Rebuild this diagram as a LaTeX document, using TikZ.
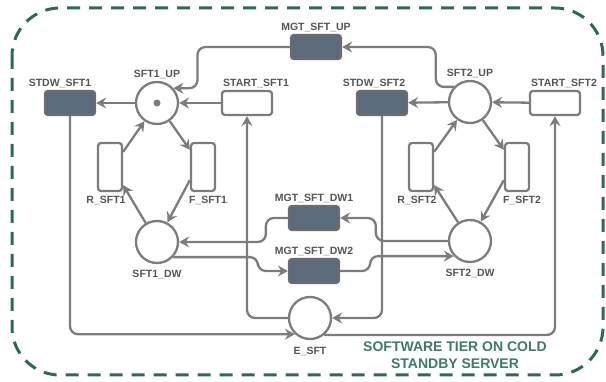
\documentclass[tikz,border=0pt]{standalone}
\usepackage{fontspec}
\setmainfont{Liberation Sans}
\usetikzlibrary{arrows.meta}
\definecolor{edgegray}{RGB}{124,124,124}
\definecolor{slate}{RGB}{91,107,124}
\definecolor{txtgray}{RGB}{85,85,85}
\definecolor{tiergreen}{RGB}{47,104,88}
\definecolor{tiertext}{RGB}{58,124,104}
\begin{document}
\begin{tikzpicture}[x=1pt,y=-1pt,
  place/.style={circle,draw=edgegray,line width=2.3pt,fill=white,minimum size=42pt,inner sep=0pt},
  trans/.style={rectangle,rounded corners=3pt,draw=edgegray,line width=2.3pt,fill=white,minimum width=50pt,minimum height=24pt,inner sep=0pt},
  vtrans/.style={trans,minimum width=24pt,minimum height=48pt},
  mgt/.style={trans,fill=slate,draw=gray!85!black},
  lbl/.style={font=\bfseries\fontsize{10.5}{12}\selectfont,text=txtgray,inner sep=1pt},
  flow/.style={draw=edgegray,line width=2.3pt,rounded corners=8pt,-{Stealth[length=10pt,width=11pt,inset=3.5pt]}},
  every label/.style={lbl},
  label distance=1pt]
  \useasboundingbox (0,0) rectangle (606,382);
  \draw[tiergreen,line width=3pt,dash pattern=on 13pt off 9pt,rounded corners=48pt] (12,8) rectangle (603,375);

  \node[place,label={above:SFT1\_UP}] (sft1up) at (157,103) {};
  \node[circle,fill=edgegray,minimum size=7pt,inner sep=0pt] (token) at (sft1up) {};
  \node[mgt,label={[xshift=-10pt]above:STDW\_SFT1}] (stdw1) at (70,103) {};
  \node[trans,label={[xshift=9pt]above:START\_SFT1}] (start1) at (247,103) {};
  \node[mgt,label={above:MGT\_SFT\_UP}] (mgtup) at (316,47) {};
  \node[place,label={above:SFT2\_UP}] (sft2up) at (470,102) {};
  \node[mgt,label={[xshift=-8pt]above:STDW\_SFT2}] (stdw2) at (382,103) {};
  \node[trans,label={[xshift=9pt]above:START\_SFT2}] (start2) at (555,103) {};
  \node[vtrans,label={[xshift=-4pt,label distance=3pt]below:R\_SFT1}] (r1) at (110,167) {};
  \node[vtrans,label={[xshift=5pt,label distance=3pt]below:F\_SFT1}] (f1) at (203,167) {};
  \node[vtrans,label={[xshift=-4pt,label distance=3pt]below:R\_SFT2}] (r2) at (421,167) {};
  \node[vtrans,label={[xshift=5pt,label distance=3pt]below:F\_SFT2}] (f2) at (517,167) {};
  \node[place,label={[label distance=5pt]below:SFT1\_DW}] (sft1dw) at (157,242) {};
  \node[place,label={[label distance=5pt]below:SFT2\_DW}] (sft2dw) at (470,241) {};
  \node[mgt,label={above:MGT\_SFT\_DW1}] (mgtdw1) at (314,218) {};
  \node[mgt,label={above:MGT\_SFT\_DW2}] (mgtdw2) at (314,271) {};
  \node[place,label={[label distance=6pt]below:E\_SFT}] (esft) at (310,318) {};
  \node[font=\bfseries\fontsize{14}{16.5}\selectfont,text=tiertext,align=center] (tier) at (455,355) {SOFTWARE TIER ON COLD\\STANDBY SERVER};

  \draw[flow] (sft1up) -- (stdw1);
  \draw[flow] (start1) -- (sft1up);
  \draw[flow] (mgtup.west) -| ([xshift=24pt]sft1up.42) -- (sft1up.42);
  \draw[flow] ([yshift=-10pt]r1.north east) -- (sft1up);
  \draw[flow] (sft1up) -- ([yshift=-8pt]f1.north west);
  \draw[flow] ([yshift=12pt]f1.south west) -- (sft1dw);
  \draw[flow] (sft1dw) -- ([yshift=7pt]r1.south east);

  \draw[flow] (sft2up) -- (stdw2);
  \draw[flow] (start2) -- (sft2up);
  \draw[flow] (sft2up.137) -- ++(-18,0) |- (mgtup.east);
  \draw[flow] ([yshift=-10pt]r2.north east) -- (sft2up);
  \draw[flow] (sft2up) -- ([yshift=-8pt]f2.north west);
  \draw[flow] ([yshift=12pt]f2.south west) -- (sft2dw);
  \draw[flow] (sft2dw) -- ([yshift=7pt]r2.south east);

  \draw[flow] (stdw1.south) |- (esft.227);
  \draw[flow] (esft.west) -| (start1.south);
  \draw[flow] (stdw2.south) |- (esft.east);
  \draw[flow] (esft.-50) -| (start2.south);

  \draw[flow] (sft2dw.west) -- ++(-72,0) |- (mgtdw1.east);
  \draw[flow] (mgtdw1.west) -- ++(-22,0) |- (sft1dw.east);
  \draw[flow] (sft1dw.-43) -| ([xshift=-30pt]mgtdw2.west) -- (mgtdw2.west);
  \draw[flow] (mgtdw2.east) -- ++(30,0) |- (sft2dw.223);
\end{tikzpicture}
\end{document}
